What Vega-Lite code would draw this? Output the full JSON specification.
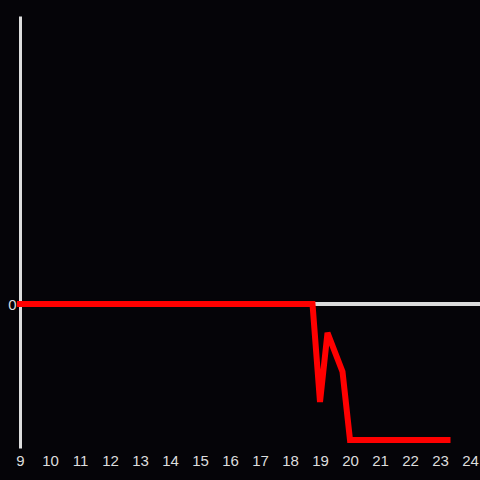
{
  "$schema": "https://vega.github.io/schema/vega-lite/v6.json",
  "width": 460,
  "height": 432,
  "autosize": {"type": "none"},
  "padding": {"left": 20, "top": 16, "right": 0, "bottom": 32},
  "background": "#050408",
  "config": {
    "view": {"stroke": null},
    "font": "Liberation Sans"
  },
  "data": {"values": [
    {"hour": 9, "value": 0},
    {"hour": 18.75, "value": 0},
    {"hour": 19, "value": -0.68},
    {"hour": 19.25, "value": -0.2},
    {"hour": 19.75, "value": -0.47},
    {"hour": 20, "value": -0.944},
    {"hour": 23.25, "value": -0.944}
  ]},
  "layer": [
    {
      "mark": {"type": "rule", "color": "#dddddd", "strokeWidth": 3},
      "encoding": {"y": {"datum": 0, "type": "quantitative"}}
    },
    {
      "mark": {"type": "line", "color": "#ff0000", "strokeWidth": 6, "strokeCap": "square", "strokeJoin": "miter"},
      "encoding": {
        "x": {"field": "hour", "type": "quantitative", "scale": {"domain": [9, 24.333], "nice": false, "zero": false},
              "axis": {"title": null, "values": [9,10,11,12,13,14,15,16,17,18,19,20,21,22,23,24], "format": "d", "domain": false, "ticks": false, "grid": false, "labelColor": "#dddddd", "labelFontSize": 15, "labelPadding": 5, "labelFlush": false, "labelOverlap": false}},
        "y": {"field": "value", "type": "quantitative", "scale": {"domain": [-1, 2], "nice": false, "zero": false},
              "axis": {"title": null, "values": [0], "format": "d", "domain": true, "ticks": false, "grid": false, "domainColor": "#dddddd", "domainWidth": 3, "labelColor": "#dddddd", "labelFontSize": 15, "labelPadding": 4}}
      }
    }
  ]
}
